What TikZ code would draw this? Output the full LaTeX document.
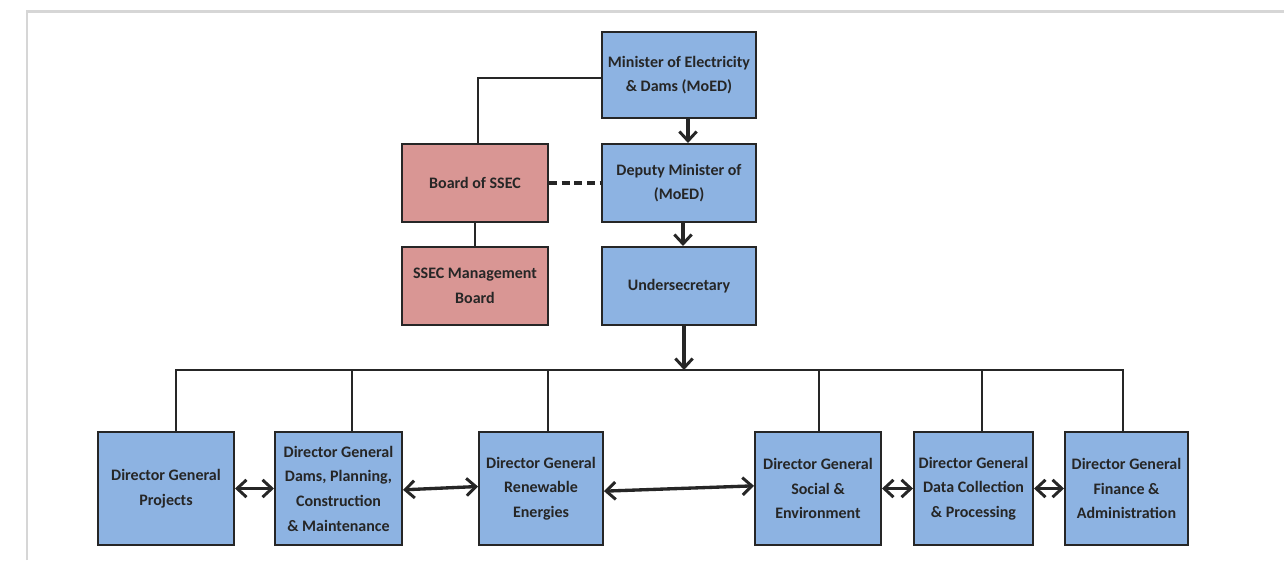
\documentclass[tikz,border=0pt]{standalone}
\usepackage{fontspec}
\setmainfont{Carlito}
\usetikzlibrary{arrows.meta}
\definecolor{boxblue}{HTML}{8DB3E2}
\definecolor{boxpink}{HTML}{D99694}
\definecolor{edge}{HTML}{262626}
\definecolor{framegrey}{HTML}{D6D6D6}
\tikzset{
  orgbox/.style={draw=edge, line width=1.5pt, fill=boxblue, inner sep=0pt, align=center,
    font=\fontsize{12}{18.5}\selectfont\bfseries, text=edge},
  pinkbox/.style={orgbox, fill=boxpink},
  link/.style={draw=edge, line width=1pt},
  barb/.tip={Straight Barb[length=7pt,width=13pt,line width=2.2pt]},
  arr/.style={draw=edge, line width=2.5pt, -barb},
  darr/.style={draw=edge, line width=2.5pt, barb-barb},
}
\begin{document}
\begin{tikzpicture}[x=0.75pt,y=-0.75pt]
\useasboundingbox (0,0) rectangle (1284,560);
\fill[white] (0,0) rectangle (1284,560);
\draw[framegrey, line width=1.6pt] (27,560) -- (27,11.5) -- (1284,11.5);

% top column
\node[orgbox, minimum width=154*0.75pt, minimum height=86*0.75pt] (min) at (679,75) {Minister of Electricity\\ \& Dams (MoED)};
\node[orgbox, minimum width=154*0.75pt, minimum height=78*0.75pt] (dep) at (679,183) {Deputy Minister of\\(MoED)};
\node[orgbox, minimum width=154*0.75pt, minimum height=78*0.75pt] (und) at (679,286) {Undersecretary};
\node[pinkbox, minimum width=146*0.75pt, minimum height=78*0.75pt] (board) at (475,183) {Board of SSEC};
\node[pinkbox, minimum width=146*0.75pt, minimum height=78*0.75pt] (mgmt) at (475,286) {SSEC Management\\Board};

% bottom row
\node[orgbox, minimum width=136*0.75pt, minimum height=113*0.75pt] (p1) at (166,488.5) {Director General\\Projects};
\node[orgbox, minimum width=127*0.75pt, minimum height=113*0.75pt] (p2) at (338.5,488.5) {Director General\\Dams, Planning,\\Construction\\\& Maintenance};
\node[orgbox, minimum width=124*0.75pt, minimum height=113*0.75pt] (p3) at (541,488.5) {Director General\\Renewable\\Energies};
\node[orgbox, minimum width=126*0.75pt, minimum height=113*0.75pt] (p4) at (818,488.5) {Director General\\Social \&\\Environment};
\node[orgbox, minimum width=119*0.75pt, minimum height=113*0.75pt] (p5) at (973.5,488.5) {Director General\\Data Collection\\\& Processing};
\node[orgbox, minimum width=123*0.75pt, minimum height=113*0.75pt] (p6) at (1126.5,488.5) {Director General\\Finance \&\\Administration};

% top connectors
\coordinate (bt) at (478,78);
\draw[link] (min.west |- bt) -- (bt) -- (bt |- board.north);
\draw[link] (board.south) -- (mgmt.north);
\draw[draw=edge, line width=2.6pt, dash pattern=on 6pt off 3.5pt] (board.east) -- (dep.west);
\coordinate (a1) at (688,0);
\draw[arr] (a1 |- min.south) -- (a1 |- dep.north);
\coordinate (a2) at (683,0);
\draw[arr] (a2 |- dep.south) -- (a2 |- und.north);

% bus
\coordinate (bus) at (684,370);
\draw[arr] (bus |- und.south) -- (bus);
\coordinate (b1) at (176,370);
\coordinate (b2) at (352,370);
\coordinate (b3) at (548,370);
\coordinate (b4) at (819,370);
\coordinate (b5) at (982,370);
\coordinate (b6) at (1123,370);
\draw[link] (b1 |- p1.north) -- (b1) -- (b6) -- (b6 |- p6.north);
\draw[link] (b2) -- (b2 |- p2.north);
\draw[link] (b3) -- (b3 |- p3.north);
\draw[link] (b4) -- (b4 |- p4.north);
\draw[link] (b5) -- (b5 |- p5.north);

% horizontal links
\draw[darr] (p1.east) -- (p2.west);
\draw[darr] ([yshift=-1pt]p2.east) -- ([yshift=1.5pt]p3.west);
\draw[darr] ([yshift=-2pt]p3.east) -- ([yshift=2pt]p4.west);
\draw[darr] (p4.east) -- (p5.west);
\draw[darr] (p5.east) -- (p6.west);
\end{tikzpicture}
\end{document}
